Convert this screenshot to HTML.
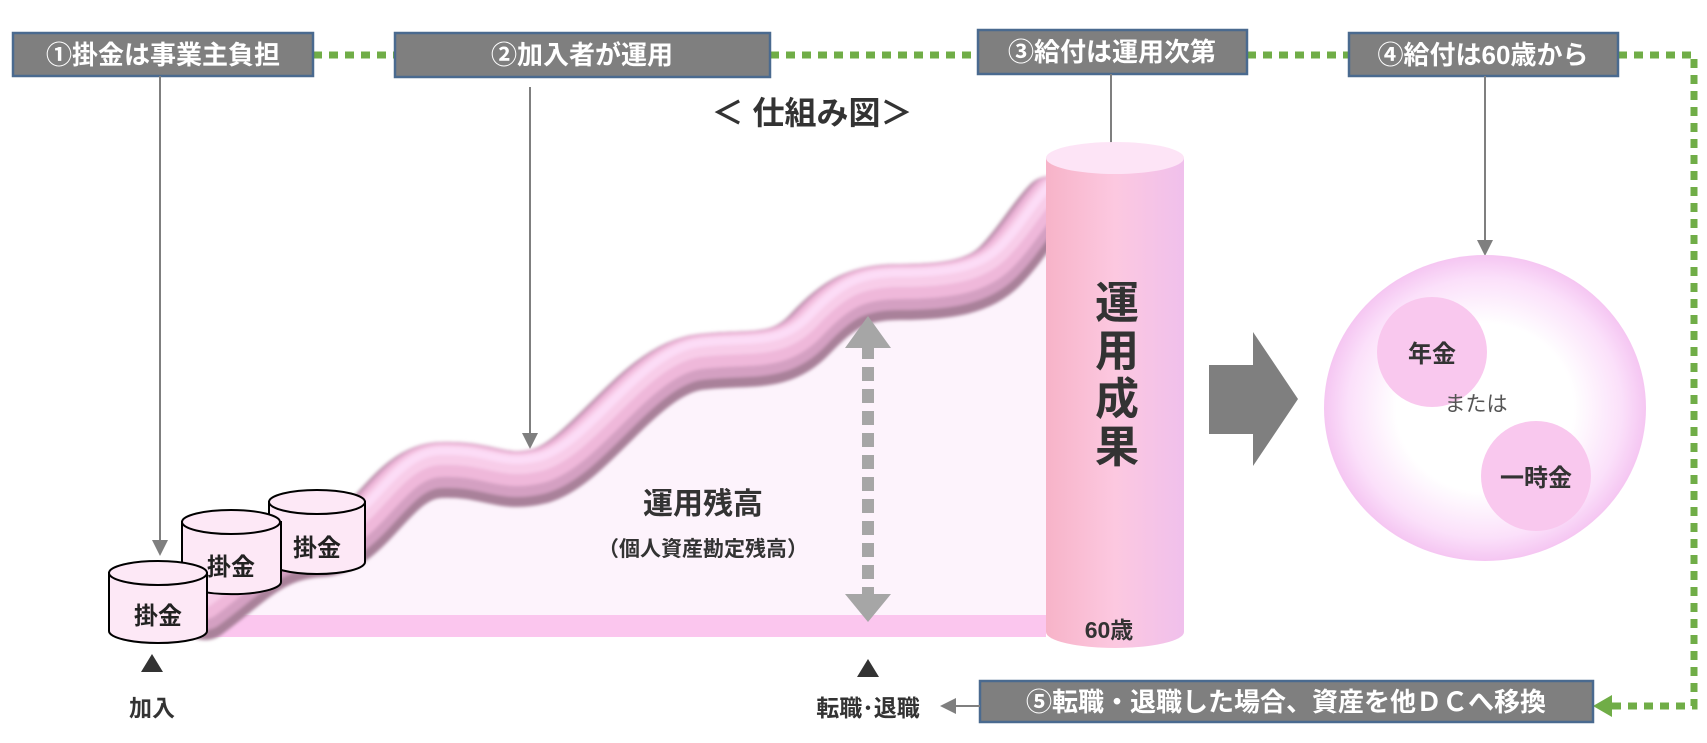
<!DOCTYPE html>
<html><head><meta charset="utf-8"><style>
html,body{margin:0;padding:0;background:#fff}
svg{display:block}
text{font-family:"Liberation Sans","Noto Sans CJK JP",sans-serif}
</style></head><body>
<svg width="1707" height="743" viewBox="0 0 1707 743">
<defs>
<linearGradient id="cyl" x1="0" x2="1" y1="0" y2="0">
<stop offset="0" stop-color="#f7b3c8"/><stop offset="0.5" stop-color="#fcc8e0"/><stop offset="1" stop-color="#f0c0ec"/></linearGradient>
<radialGradient id="big" cx="0.5" cy="0.5" r="0.5">
<stop offset="0.55" stop-color="#ffffff"/><stop offset="0.85" stop-color="#fbe0fa"/><stop offset="1" stop-color="#f5c6f2"/></radialGradient>
<marker id="ah" markerWidth="8" markerHeight="8" refX="7" refY="4" orient="auto"><path d="M0,0 L8,4 L0,8z" fill="#7f7f7f"/></marker>
<filter id="soft" x="-5%" y="-20%" width="110%" height="140%"><feGaussianBlur stdDeviation="1.5"/></filter>
<path id="wave" d="M205,608 C250,575 270,548 320,545 C370,542 390,468 440,466 C490,464 500,482 540,472 C590,458 640,365 700,358 C750,352 780,362 810,330 C840,298 860,288 900,288 C950,288 980,282 1000,262 C1020,242 1035,215 1050,200"/>
</defs>
<!-- green dotted connector -->
<g stroke="#70ad47" stroke-width="7" stroke-dasharray="9,7" fill="none">
<path d="M313,55 H395 M770,55 H978 M1247,55 H1349 M1618,55 H1694 V706 H1605"/>
</g>
<path d="M1593,706 L1612,695 L1612,717z" fill="#70ad47"/>
<!-- boxes -->
<g><rect x="13" y="33" width="300" height="43" fill="#7f7f7f" stroke="#4a6a8f" stroke-width="2.5"/><text x="163" y="64" font-size="26" font-weight="bold" fill="#fff" text-anchor="middle">①掛金は事業主負担</text></g>
<g><rect x="395" y="33" width="375" height="44" fill="#7f7f7f" stroke="#4a6a8f" stroke-width="2.5"/><text x="582" y="64" font-size="26" font-weight="bold" fill="#fff" text-anchor="middle">②加入者が運用</text></g>
<g><rect x="978" y="30" width="269" height="44" fill="#7f7f7f" stroke="#4a6a8f" stroke-width="2.5"/><text x="1112" y="61" font-size="26" font-weight="bold" fill="#fff" text-anchor="middle">③給付は運用次第</text></g>
<g><rect x="1349" y="33" width="269" height="43" fill="#7f7f7f" stroke="#4a6a8f" stroke-width="2.5"/><text x="1483" y="64" font-size="26" font-weight="bold" fill="#fff" text-anchor="middle">④給付は60歳から</text></g>
<g><rect x="980" y="681" width="613" height="41" fill="#7f7f7f" stroke="#4a6a8f" stroke-width="2.5"/><text x="1286" y="711" font-size="26" font-weight="bold" fill="#fff" text-anchor="middle">⑤転職・退職した場合、資産を他ＤＣへ移換</text></g>
<!-- pointer lines -->
<g stroke="#7f7f7f" stroke-width="2" marker-end="url(#ah)">
<line x1="160" y1="76" x2="160" y2="554"/><line x1="530" y1="87" x2="530" y2="447"/>
<line x1="1111" y1="74" x2="1111" y2="158"/><line x1="1485" y1="76" x2="1485" y2="254"/>
<line x1="980" y1="706" x2="942" y2="706"/></g>
<text x="812" y="124" font-size="32" font-weight="bold" fill="#333" text-anchor="middle">＜ 仕組み図＞</text>
<!-- balance area -->
<path d="M205,608 C250,575 270,548 320,545 C370,542 390,468 440,466 C490,464 500,482 540,472 C590,458 640,365 700,358 C750,352 780,362 810,330 C840,298 860,288 900,288 C950,288 980,282 1000,262 C1020,242 1035,215 1050,200 V615 H201z" fill="#fdf3fc"/>
<rect x="201" y="615" width="845" height="22" fill="#fbc6ee"/>
<!-- tube -->
<g fill="none" stroke-linecap="round" filter="url(#soft)">
<use href="#wave" stroke="#a9819a" stroke-width="56" transform="translate(0,4)"/>
<use href="#wave" stroke="#d4a0c2" stroke-width="46" transform="translate(0,-1)"/>
<use href="#wave" stroke="#efb8da" stroke-width="34" transform="translate(0,-6)"/>
<use href="#wave" stroke="#f8cde9" stroke-width="20" transform="translate(0,-11)"/>
<use href="#wave" stroke="#fcdcf6" stroke-width="8" transform="translate(0,-15)"/>
</g>
<!-- cylinder -->
<g>
<path d="M1046,158 V632 A69,16 0 0 0 1184,632 V158z" fill="url(#cyl)"/>
<ellipse cx="1115" cy="158" rx="69" ry="16" fill="#fde4f6"/>
<text x="1117" y="318" font-size="44" font-weight="bold" fill="#333" text-anchor="middle">運</text>
<text x="1117" y="366" font-size="44" font-weight="bold" fill="#333" text-anchor="middle">用</text>
<text x="1117" y="414" font-size="44" font-weight="bold" fill="#333" text-anchor="middle">成</text>
<text x="1117" y="462" font-size="44" font-weight="bold" fill="#333" text-anchor="middle">果</text>
<text x="1109" y="638" font-size="23" font-weight="bold" fill="#333" text-anchor="middle">60歳</text>
</g>
<!-- coins -->
<g><path d="M269,502 V562 A48,12 0 0 0 365,562 V502z" fill="#fde8f6" stroke="#000" stroke-width="2"/><ellipse cx="317" cy="502" rx="48" ry="12" fill="#fde8f6" stroke="#000" stroke-width="2"/><text x="317" y="556" font-size="24" font-weight="bold" fill="#222" text-anchor="middle">掛金</text></g>
<g><path d="M182,522 V582 A49,12 0 0 0 281,582 V522z" fill="#fde8f6" stroke="#000" stroke-width="2"/><ellipse cx="231" cy="522" rx="49" ry="12" fill="#fde8f6" stroke="#000" stroke-width="2"/><text x="231" y="575" font-size="24" font-weight="bold" fill="#222" text-anchor="middle">掛金</text></g>
<g><path d="M109,573 V631 A49,12 0 0 0 207,631 V573z" fill="#fde8f6" stroke="#000" stroke-width="2"/><ellipse cx="158" cy="573" rx="49" ry="12" fill="#fde8f6" stroke="#000" stroke-width="2"/><text x="158" y="624" font-size="24" font-weight="bold" fill="#222" text-anchor="middle">掛金</text></g>
<text x="703" y="514" font-size="30" font-weight="bold" fill="#333" text-anchor="middle">運用残高</text>
<text x="703" y="556" font-size="21" font-weight="bold" fill="#333" text-anchor="middle">（個人資産勘定残高）</text>
<!-- dashed double arrow -->
<g fill="#a6a6a6">
<line x1="868" y1="345" x2="868" y2="595" stroke="#a6a6a6" stroke-width="12" stroke-dasharray="14,8"/>
<path d="M845,348 L868,316 L891,348z"/><path d="M845,594 L868,622 L891,594z"/></g>
<path d="M152,654 L163,672 L141,672z" fill="#333"/>
<text x="152" y="716" font-size="23" font-weight="bold" fill="#333" text-anchor="middle">加入</text>
<path d="M868,659 L879,677 L857,677z" fill="#333"/>
<text x="868" y="716" font-size="23" font-weight="bold" fill="#333" text-anchor="middle">転職･退職</text>
<!-- big arrow -->
<path d="M1209,365 H1253 V332 L1298,399 L1253,466 V434 H1209z" fill="#7f7f7f"/>
<!-- payout circle -->
<g>
<ellipse cx="1485" cy="408" rx="161" ry="153" fill="url(#big)"/>
<circle cx="1432" cy="352" r="55" fill="#f9c8ee"/><text x="1432" y="362" font-size="24" font-weight="bold" fill="#333" text-anchor="middle">年金</text>
<circle cx="1536" cy="476" r="55" fill="#f9c8ee"/><text x="1536" y="486" font-size="24" font-weight="bold" fill="#333" text-anchor="middle">一時金</text>
<text x="1476" y="411" font-size="21" fill="#555" text-anchor="middle">または</text>
</g>
</svg>
</body></html>
